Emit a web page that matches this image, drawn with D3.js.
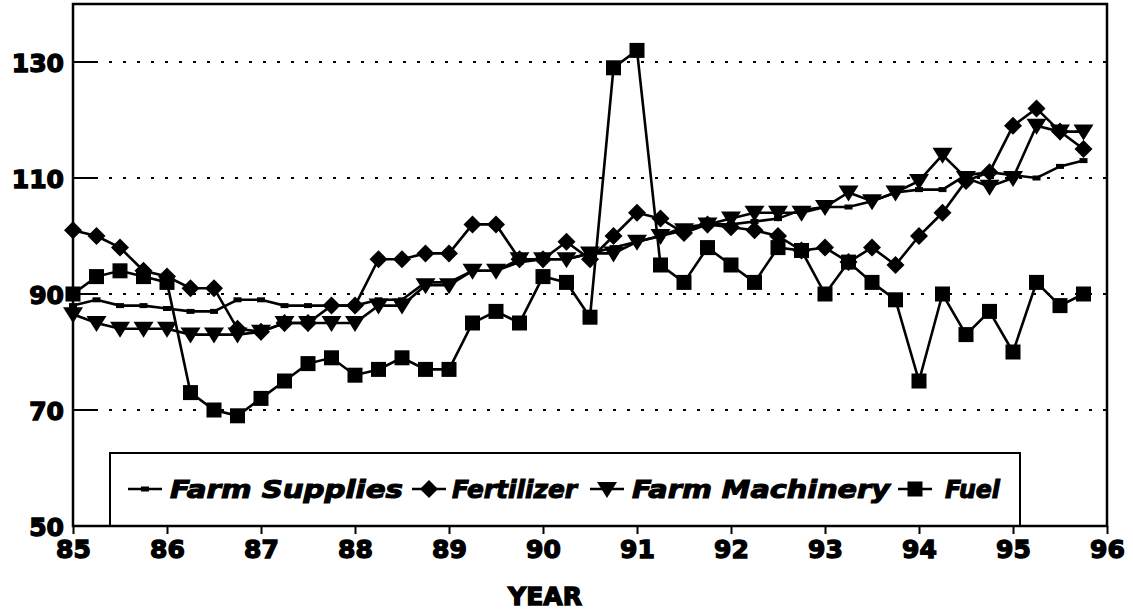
<html>
    <head>
        <script src="https://d3js.org/d3.v7.min.js"></script>
        <style>
            body{ margin:0; background:#fff; }
            #svg{ background-color:#fff; }
            .tick-label{ font-family:"DejaVu Sans"; font-weight:bold; fill:#000; stroke:#000; stroke-width:1.4px; }
            .legend-text{ font-family:"DejaVu Sans"; font-weight:bold; font-style:italic; fill:#000; stroke:#000; stroke-width:1.1px; }
        </style>
    </head>
    <body>
        <svg id="svg" width="1133" height="611"></svg>
        <script>
            // quarterly index values, 1985 Q1 .. 1995 Q4
            var years = [85, 86, 87, 88, 89, 90, 91, 92, 93, 94, 95];
            var quarterOffsets = [0, 0.25, 0.5, 0.75];
            var xTicks = [85, 86, 87, 88, 89, 90, 91, 92, 93, 94, 95, 96];
            var yTicks = [50, 70, 90, 110, 130];
            var seriesNames = ["Farm Supplies", "Fertilizer", "Farm Machinery", "Fuel"];

            var farmSupplies = [88, 89, 88, 88,  87.5, 87, 87, 89,  89, 88, 88, 88,  88, 89, 89, 92,
                                92, 94, 94, 95.5,  96, 96, 97, 98,  99, 100, 101.5, 102,  102, 102.5, 103, 104.5,
                                105, 105, 106, 107.5,  108, 108, 110.5, 111,  110.5, 110, 112, 113];
            var fertilizer   = [101, 100, 98, 94,  93, 91, 91, 84,  83.5, 85, 85, 88,  88, 96, 96, 97,
                                97, 102, 102, 96,  96, 99, 96, 100,  104, 103, 100.5, 102,  101.5, 101, 100, 97.5,
                                98, 95.5, 98, 95,  100, 104, 109.5, 111,  119, 122, 118, 115];
            var farmMachinery= [86.5, 85, 84, 84,  84, 83, 83, 83,  83.5, 85, 85, 85,  85, 88, 88, 91.5,
                                91.5, 94, 94, 96,  96, 96, 97, 97,  99, 100, 101, 102,  103, 104, 104, 104,
                                105, 107.5, 106, 107.5,  109.5, 114, 110, 108.5,  110, 119, 118, 118];
            var fuel         = [90, 93, 94, 93,  92, 73, 70, 69,  72, 75, 78, 79,  76, 77, 79, 77,
                                77, 85, 87, 85,  93, 92, 86, 129,  132, 95, 92, 98,  95, 92, 98, 97.5,
                                90, 95.5, 92, 89,  75, 90, 83, 87,  80, 92, 88, 90];

            var quarters = [];
            years.forEach(function(yr){ quarterOffsets.forEach(function(q){ quarters.push(yr + q); }); });

            var svg = d3.select("svg");
            var plotLeft = 73, plotRight = 1107, plotTop = 4, plotBottom = 526;

            var x = d3.scaleLinear().domain([85, 96]).range([plotLeft, plotRight]);
            var y = d3.scaleLinear().domain([50, 140]).range([plotBottom, plotTop]);

            // dotted grid with short solid ticks at the left
            var grid = svg.append("g");
            yTicks.filter(function(t){ return t > 50; }).forEach(function(t){
                grid.append("line")
                    .attr("x1", plotLeft + 22).attr("x2", plotRight)
                    .attr("y1", y(t)).attr("y2", y(t))
                    .attr("stroke", "#000").attr("stroke-width", 2)
                    .attr("stroke-dasharray", "3,11");
                grid.append("line")
                    .attr("x1", plotLeft).attr("x2", plotLeft + 22)
                    .attr("y1", y(t)).attr("y2", y(t))
                    .attr("stroke", "#000").attr("stroke-width", 2);
            });

            // legend box
            svg.append("rect")
                .attr("x", 110).attr("y", 453)
                .attr("width", 910).attr("height", plotBottom - 453)
                .attr("fill", "#fff").attr("stroke", "#000").attr("stroke-width", 2);

            // frame
            svg.append("rect")
                .attr("x", plotLeft).attr("y", plotTop)
                .attr("width", plotRight - plotLeft).attr("height", plotBottom - plotTop)
                .attr("fill", "none").attr("stroke", "#000").attr("stroke-width", 2.5);

            // axes
            var xAxis = d3.axisBottom(x).tickValues(xTicks).tickSize(8).tickPadding(6)
                            .tickFormat(function(d){ return d; });
            var gx = svg.append("g").attr("transform", "translate(0," + plotBottom + ")").call(xAxis);
            gx.select(".domain").remove();
            gx.selectAll("line").attr("stroke", "#000").attr("stroke-width", 2);
            gx.selectAll("text").attr("class", "tick-label").style("font-size", "25px").attr("dy", "0.72em");

            var yAxis = d3.axisLeft(y).tickValues(yTicks).tickSize(0).tickPadding(9);
            var gy = svg.append("g").attr("transform", "translate(" + plotLeft + ",0)").call(yAxis);
            gy.select(".domain").remove();
            gy.selectAll("text").attr("class", "tick-label").style("font-size", "25px").attr("dy", "0.36em");

            svg.append("text").attr("class", "tick-label")
                .attr("x", 545).attr("y", 605)
                .attr("text-anchor", "middle").style("font-size", "25px")
                .text("YEAR");

            // markers
            function drawMarker(g, type, cx, cy){
                if(type === 0){
                    g.append("rect").attr("x", cx - 4).attr("y", cy - 2.5).attr("width", 8).attr("height", 5).attr("fill", "#000");
                } else if(type === 1){
                    g.append("path").attr("d", "M" + cx + "," + (cy - 9) + "L" + (cx + 9) + "," + cy + "L" + cx + "," + (cy + 9) + "L" + (cx - 9) + "," + cy + "Z").attr("fill", "#000");
                } else if(type === 2){
                    g.append("path").attr("d", "M" + (cx - 10) + "," + (cy - 7) + "L" + (cx + 10) + "," + (cy - 7) + "L" + cx + "," + (cy + 9) + "Z").attr("fill", "#000");
                } else {
                    g.append("rect").attr("x", cx - 7.5).attr("y", cy - 7.5).attr("width", 15).attr("height", 15).attr("fill", "#000");
                }
            }

            var allSeries = [farmSupplies, fertilizer, farmMachinery, fuel];
            var line = d3.line()
                .x(function(d, i){ return x(quarters[i]); })
                .y(function(d){ return y(d); });

            allSeries.forEach(function(values, k){
                var g = svg.append("g");
                g.append("path").datum(values)
                    .attr("d", line)
                    .attr("fill", "none").attr("stroke", "#000").attr("stroke-width", 2.6);
                values.forEach(function(v, i){
                    drawMarker(g, k, x(quarters[i]), y(v));
                });
            });

            // legend entries: symbol start, text start, text width
            var legendX = [[128, 170, 233], [412, 452, 125], [590, 632, 258], [898, 945, 55]];
            var legendY = 489;
            seriesNames.forEach(function(name, k){
                var g = svg.append("g");
                g.append("line")
                    .attr("x1", legendX[k][0]).attr("x2", legendX[k][0] + 34)
                    .attr("y1", legendY).attr("y2", legendY)
                    .attr("stroke", "#000").attr("stroke-width", 2.6);
                drawMarker(g, k, legendX[k][0] + 17, legendY);
                g.append("text").attr("class", "legend-text")
                    .attr("x", legendX[k][1]).attr("y", legendY + 9)
                    .attr("textLength", legendX[k][2]).attr("lengthAdjust", "spacingAndGlyphs")
                    .style("font-size", "25px")
                    .text(name);
            });
        </script>
    </body>
</html>
